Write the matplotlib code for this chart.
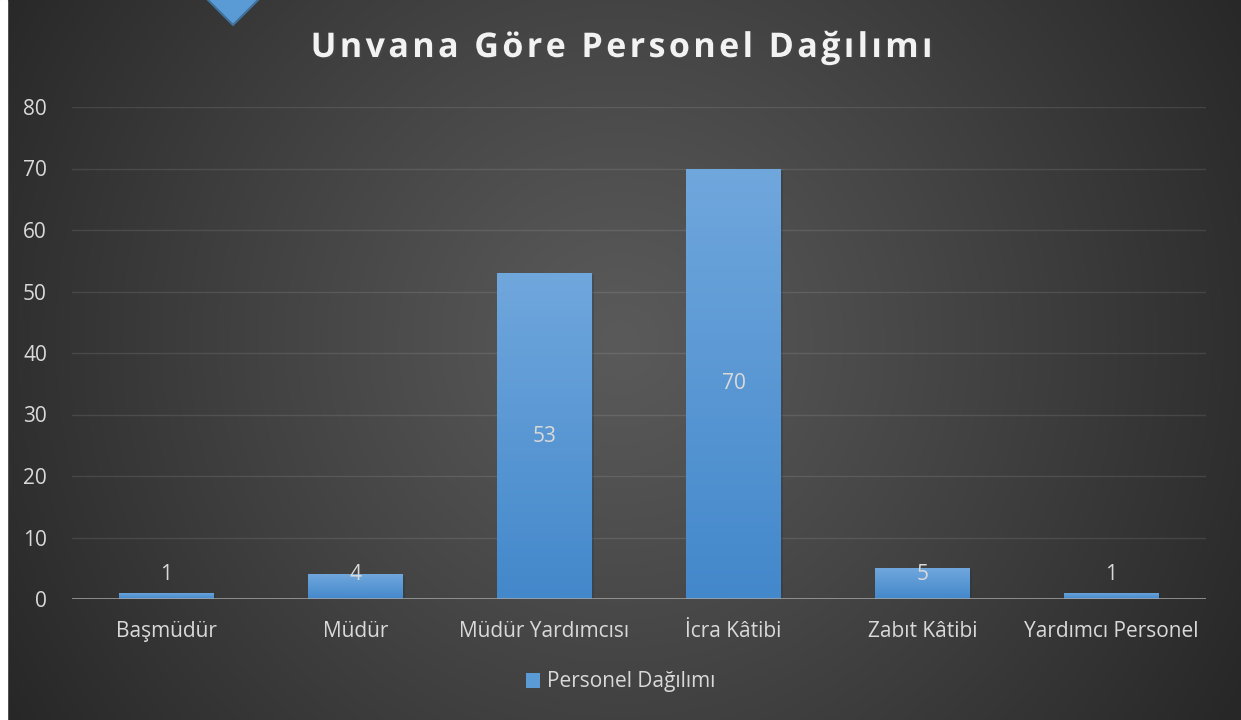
import numpy as np
import matplotlib.pyplot as plt
from matplotlib.patches import Polygon, Rectangle
import matplotlib.patheffects as pe

# veriler
unvanlar = ["Başmüdür", "Müdür", "Müdür Yardımcısı", "İcra Kâtibi", "Zabıt Kâtibi", "Yardımcı Personel"]
personel = [1, 4, 53, 70, 5, 1]
seri_adi = "Personel Dağılımı"
baslik = "Unvana Göre Personel Dağılımı"
y_ticks = [0, 10, 20, 30, 40, 50, 60, 70, 80]

plt.rcParams['font.family'] = ['Open Sans', 'DejaVu Sans']
W, H = 1241, 720
fs = 15

fig = plt.figure(figsize=(W / 100, H / 100), dpi=100)

# arka plan: koyu radyal gradyan
bg = fig.add_axes([0, 0, 1, 1], zorder=-10)
yy, xx = np.mgrid[0:H, 0:W]
r = np.sqrt((xx - 620) ** 2 + (yy - 340) ** 2) / 720
r = np.clip(r, 0, 1)
g = (0x5a - (0x5a - 0x27) * r ** 1.1) / 255
bg.imshow(np.dstack([g, g, g]), extent=(0, W, H, 0), aspect='auto')
bg.set_xlim(0, W)
bg.set_ylim(H, 0)
bg.axis('off')
# sol beyaz kenar
fig.patches.append(Rectangle((0, 0), 7 / W, 1, transform=fig.transFigure, color='white', zorder=5))

# sol üstteki mavi eşkenar dörtgen
pts = [(233, 25), (188, -20), (233, -65), (278, -20)]
fig.patches.append(Polygon([(x / W, 1 - y / H) for x, y in pts], closed=True, transform=fig.transFigure,
                           facecolor='#5b9bd5', edgecolor='#41719c', lw=1.5, zorder=6))

ax = fig.add_axes([72 / W, 1 - 599 / H, (1206 - 72) / W, (599 - 107) / H])
ax.set_facecolor('none')

x = np.arange(len(unvanlar))
bars = ax.bar(x, personel, width=0.5, color='#5b9bd5', zorder=3,
              path_effects=[pe.SimplePatchShadow(offset=(1.5, -1.5), alpha=0.25), pe.Normal()])

# çubuklara dikey gradyan
grad = np.linspace(0, 1, 256).reshape(-1, 1)
top_c = np.array([0x70, 0xa7, 0xdd]) / 255
bot_c = np.array([0x43, 0x88, 0xcb]) / 255
img = top_c * (1 - grad[..., None]) + bot_c * grad[..., None]
img = img.reshape(256, 1, 3)
for b in bars:
    x0, w, h = b.get_x(), b.get_width(), b.get_height()
    im = ax.imshow(img, extent=(x0, x0 + w, 0, h), aspect='auto', zorder=4)
    im.set_clip_path(b)

for xi, v in zip(x, personel):
    ax.text(xi, max(v / 2, 4.0), str(v), ha='center', va='center', color='#d9d9d9', fontsize=fs, zorder=6)

ax.set_xlim(-0.5, len(unvanlar) - 0.5)
ax.set_ylim(0, 80)
ax.set_yticks(y_ticks)
ax.set_xticks(x)
ax.set_xticklabels(unvanlar)
ax.tick_params(axis='both', length=0, colors='#d9d9d9', labelsize=fs)
ax.tick_params(axis='x', pad=16)
ax.tick_params(axis='y', pad=18)
ax.grid(axis='y', color='white', alpha=0.1, lw=1, zorder=0)
for s in ax.spines.values():
    s.set_visible(False)
ax.axhline(0, color='#a6a6a6', lw=1.8, zorder=5)

# lejant
handle = Rectangle((0, 0), 1, 1, facecolor='#5b9bd5')
fig.legend([handle], [seri_adi], loc='center', bbox_to_anchor=(0.5, 1 - 682 / H), frameon=False,
           labelcolor='#d9d9d9', fontsize=fs, handlelength=0.7, handleheight=0.7, handletextpad=0.3)

fig.text(0.5, 1 - 48 / H, "\u200a".join(baslik), ha='center', va='center', fontsize=24.5, fontweight='bold',
         color='#f2f2f2', path_effects=[pe.withSimplePatchShadow(offset=(1.5, -1.5), alpha=0.5)])

fig.savefig("out.png", dpi=100)
